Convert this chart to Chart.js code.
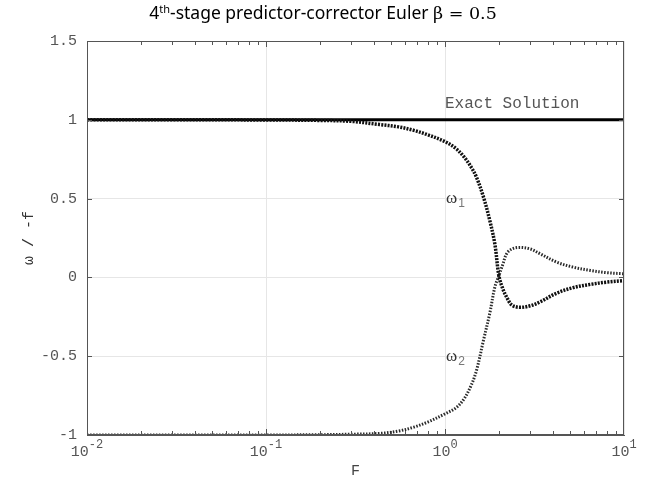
<!DOCTYPE html>
<html>
<head>
<meta charset="utf-8">
<script src="https://cdn.jsdelivr.net/npm/chart.js@4/dist/chart.umd.min.js"></script>
<style>
  html, body { margin: 0; padding: 0; background: #fff; }
</style>
</head>
<body>
<canvas id="omega-chart" width="646" height="483"></canvas>
<script>
// values
var F_values = [0.01, 0.03, 0.1, 0.2, 0.3, 0.43, 0.55, 0.67, 0.8, 1.0, 1.15, 1.27, 1.4, 1.5, 1.64, 1.78, 1.9, 2.0, 2.1, 2.21, 2.36, 2.62, 3.0, 3.4, 4.2, 5.2, 6.5, 8.0, 10];
var omega1 = [1.0, 1.0, 0.999, 0.996, 0.99, 0.97, 0.955, 0.933, 0.905, 0.862, 0.818, 0.768, 0.70, 0.635, 0.51, 0.36, 0.21, 0.01, -0.07, -0.125, -0.175, -0.19, -0.18, -0.155, -0.10, -0.065, -0.044, -0.03, -0.02];
var omega2 = [-1.0, -1.0, -1.0, -0.998, -0.995, -0.99, -0.975, -0.95, -0.918, -0.866, -0.828, -0.775, -0.685, -0.59, -0.40, -0.226, -0.06, 0.01, 0.08, 0.15, 0.18, 0.19, 0.18, 0.15, 0.097, 0.065, 0.044, 0.03, 0.023];
var exactF = [0.01, 10];
var exactValue = [1, 1];
var xTickValues = [0.01, 0.1, 1, 10];
var xTickExponents = ['-2', '-1', '0', '1'];

var monoFont = '"Liberation Mono", "DejaVu Sans Mono", monospace';

// turn two arrays into {x,y} points
function toPoints(xs, ys) {
    var pts = [];
    for (var i = 0; i < xs.length; i++) {
        pts.push({ x: xs[i], y: ys[i] });
    }
    return pts;
}

// frame, tick marks, x tick labels with exponents, in-plot labels and the title
var decorations = {
    id: 'decorations',
    afterDraw: function(chart) {
        var ctx = chart.ctx;
        var a = chart.chartArea;
        var xs = chart.scales.x;
        var ys = chart.scales.y;
        ctx.save();

        // box around the plot
        ctx.strokeStyle = '#555';
        ctx.lineWidth = 1;
        ctx.strokeRect(Math.round(a.left) + 0.5, Math.round(a.top) + 0.5,
                       Math.round(a.right - a.left) - 1, Math.round(a.bottom - a.top) - 1);

        // minor + major ticks on x (inside, top and bottom)
        ctx.beginPath();
        for (var d = 0; d < 3; d++) {
            var dec = xTickValues[d];
            for (var k = 1; k <= 9; k++) {
                var px = Math.round(xs.getPixelForValue(dec * k)) + 0.5;
                var len = (k == 1) ? 6 : 4;
                ctx.moveTo(px, a.bottom); ctx.lineTo(px, a.bottom - len);
                ctx.moveTo(px, a.top); ctx.lineTo(px, a.top + len);
            }
        }
        // y ticks on both sides
        for (var v = -1; v <= 1.5; v += 0.5) {
            var py = Math.round(ys.getPixelForValue(v)) + 0.5;
            ctx.moveTo(a.left, py); ctx.lineTo(a.left + 5, py);
            ctx.moveTo(a.right, py); ctx.lineTo(a.right - 5, py);
        }
        ctx.stroke();

        // x tick labels: 10 with raised exponent
        ctx.fillStyle = '#555';
        ctx.textBaseline = 'alphabetic';
        ctx.textAlign = 'left';
        xTickValues.forEach(function(val, i) {
            var base = '10', ex = xTickExponents[i];
            ctx.font = '15px ' + monoFont;
            var wb = ctx.measureText(base).width;
            ctx.font = '12px ' + monoFont;
            var we = ctx.measureText(ex).width;
            var x0 = xs.getPixelForValue(val) - (wb + we) / 2;
            ctx.font = '15px ' + monoFont;
            ctx.fillText(base, x0, a.bottom + 21);
            ctx.font = '12px ' + monoFont;
            ctx.fillText(ex, x0 + wb, a.bottom + 13);
        });

        // "Exact Solution" label
        ctx.fillStyle = '#555';
        ctx.font = '16px ' + monoFont;
        ctx.textBaseline = 'middle';
        ctx.fillText('Exact Solution', xs.getPixelForValue(1), ys.getPixelForValue(1.1));

        // omega labels
        var omegaLabels = [['1', 0.5], ['2', -0.5]];
        omegaLabels.forEach(function(l) {
            var x0 = xs.getPixelForValue(1) + 1;
            var y0 = ys.getPixelForValue(l[1]);
            ctx.fillStyle = '#333';
            ctx.font = '17px "Liberation Serif", serif';
            ctx.fillText('\u03C9', x0, y0);
            var w = ctx.measureText('\u03C9').width;
            ctx.fillStyle = '#777';
            ctx.font = '12px "Liberation Sans", sans-serif';
            ctx.fillText(l[0], x0 + w + 1, y0 + 5);
        });

        // title with superscript
        var parts = [
            ['4', '17.5px "Noto Sans", sans-serif', 0],
            ['th', '11px "Noto Sans", sans-serif', -6],
            ['-stage predictor-corrector Euler ', '17.5px "Noto Sans", sans-serif', 0],
            ['\u03B2 = 0.5', '17.5px "DejaVu Serif", serif', 0]
        ];
        var total = 0;
        parts.forEach(function(p) {
            ctx.font = p[1];
            total += ctx.measureText(p[0]).width;
        });
        var tx = chart.width / 2 - total / 2;
        ctx.fillStyle = '#000';
        ctx.textBaseline = 'alphabetic';
        parts.forEach(function(p) {
            ctx.font = p[1];
            ctx.fillText(p[0], tx, 19 + p[2]);
            tx += ctx.measureText(p[0]).width;
        });
        ctx.restore();
    }
};

var ctx = document.getElementById('omega-chart').getContext('2d');
var myChart = new Chart(ctx, {
    type: 'line',
    data: {
        datasets: [{
            label: 'omega1',
            data: toPoints(F_values, omega1),
            borderColor: '#111',
            borderWidth: 3.5,
            borderDash: [2, 1.2],
            borderCapStyle: 'butt',
            tension: 0.35,
            pointRadius: 0,
            fill: false
        }, {
            label: 'omega2',
            data: toPoints(F_values, omega2),
            borderColor: '#2a2a2a',
            borderWidth: 3,
            borderDash: [1.5, 1.5],
            borderCapStyle: 'butt',
            tension: 0.35,
            pointRadius: 0,
            fill: false
        }, {
            label: 'Exact Solution',
            data: toPoints(exactF, exactValue),
            borderColor: '#000',
            borderWidth: 3,
            pointRadius: 0,
            fill: false
        }]
    },
    options: {
        responsive: false,
        animation: false,
        layout: { padding: { left: 20, right: 22, top: 41, bottom: 0 } },
        plugins: {
            legend: { display: false },
            tooltip: { enabled: false },
            title: { display: false }
        },
        scales: {
            x: {
                type: 'logarithmic',
                min: 0.01,
                max: 10,
                afterBuildTicks: function(scale) {
                    scale.ticks = xTickValues.map(function(v) { return { value: v }; });
                },
                afterFit: function(scale) { scale.height = 48; },
                ticks: { display: false },
                grid: { color: '#e6e6e6', drawTicks: false },
                border: { display: true, color: '#555' },
                title: {
                    display: true,
                    text: 'F',
                    color: '#444',
                    font: { family: monoFont, size: 15 },
                    padding: { top: 0, bottom: 3 }
                }
            },
            y: {
                min: -1,
                max: 1.5,
                afterFit: function(scale) { scale.width = 67; },
                ticks: {
                    stepSize: 0.5,
                    padding: 10,
                    color: '#555',
                    font: { family: monoFont, size: 15 },
                    callback: function(value) { return String(value); }
                },
                grid: { color: '#e6e6e6', drawTicks: false },
                border: { display: true, color: '#555' },
                title: {
                    display: true,
                    text: '\u03C9 / -f',
                    color: '#333',
                    font: { family: monoFont, size: 15 },
                    padding: { top: 0, bottom: 0 }
                }
            }
        }
    },
    plugins: [decorations]
});
</script>
</body>
</html>
